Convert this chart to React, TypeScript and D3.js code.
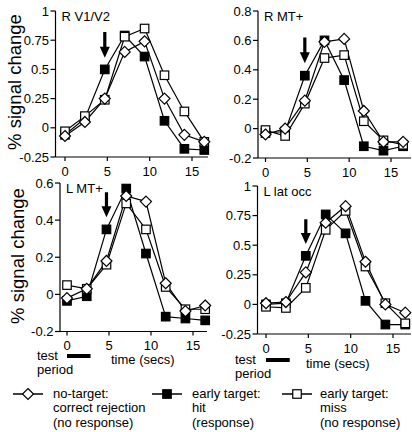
import React from "react";
import * as d3 from "d3";

// ---------- data ----------
const times = [0, 2.35, 4.7, 7.05, 9.4, 11.75, 14.1, 16.45];
const xTicks = [0, 5, 10, 15];

const rv1NoTarget = [-0.07, 0.05, 0.25, 0.65, 0.74, 0.25, -0.06, -0.12];
const rv1Hit = [-0.06, 0.08, 0.5, 0.79, 0.61, 0.06, -0.18, -0.19];
const rv1Miss = [-0.03, 0.1, 0.24, 0.78, 0.85, 0.45, 0.14, -0.12];

const rmtNoTarget = [-0.04, 0.0, 0.19, 0.59, 0.61, 0.12, -0.09, -0.09];
const rmtHit = [-0.03, -0.02, 0.36, 0.6, 0.33, -0.12, -0.15, -0.12];
const rmtMiss = [-0.01, -0.05, 0.17, 0.48, 0.5, 0.05, -0.08, -0.11];

const lmtNoTarget = [-0.02, 0.03, 0.18, 0.53, 0.5, 0.06, -0.09, -0.06];
const lmtHit = [-0.035, -0.01, 0.35, 0.57, 0.22, -0.12, -0.13, -0.14];
const lmtMiss = [0.05, 0.03, 0.16, 0.49, 0.35, 0.04, -0.08, -0.08];

const llatNoTarget = [0.01, 0.02, 0.27, 0.69, 0.83, 0.36, 0.0, -0.07];
const llatHit = [0.0, 0.01, 0.41, 0.76, 0.6, 0.03, -0.17, -0.17];
const llatMiss = [-0.02, -0.03, 0.14, 0.63, 0.79, 0.32, 0.01, -0.16];

const ticksQuarter = [-0.25, 0, 0.25, 0.5, 0.75, 1];
const ticksQuarterLabels = ["-0.25", "0", "0.25", "0.5", "0.75", "1"];
const ticksFifthTop = [-0.2, 0, 0.2, 0.4, 0.6, 0.8];
const ticksFifthTopLabels = ["-0.2", "0", "0.2", "0.4", "0.6", "0.8"];
const ticksFifthBottom = [-0.2, 0, 0.2, 0.4, 0.6];
const ticksFifthBottomLabels = ["-0.2", "0", "0.2", "0.4", "0.6"];

const arrowTime = 4.7;
const testPeriod = [0, 2.8];

const legendLabels = [
  ["no-target:", "correct rejection", "(no response)"],
  ["early target:", "hit", "(response)"],
  ["early target:", "miss", "(no response)"],
];

// ---------- layout ----------
const FONT = "'Liberation Sans', Arial, Helvetica, sans-serif";

type Panel = {
  title: string;
  noTarget: number[];
  hit: number[];
  miss: number[];
  ticks: number[];
  tickLabels: string[];
  arrow: [number, number];
  axisX: number;
  x0: number;
  x15: number;
  yTop: number;
  yBottom: number;
  xEnd: number;
};

const panels: Panel[] = [
  {
    title: "R V1/V2",
    noTarget: rv1NoTarget,
    hit: rv1Hit,
    miss: rv1Miss,
    ticks: ticksQuarter,
    tickLabels: ticksQuarterLabels,
    arrow: [0.82, 0.6],
    axisX: 55.5,
    x0: 65,
    x15: 192,
    yTop: 11,
    yBottom: 157,
    xEnd: 208,
  },
  {
    title: "R MT+",
    noTarget: rmtNoTarget,
    hit: rmtHit,
    miss: rmtMiss,
    ticks: ticksFifthTop,
    tickLabels: ticksFifthTopLabels,
    arrow: [0.62, 0.445],
    axisX: 258,
    x0: 265.5,
    x15: 391,
    yTop: 11,
    yBottom: 158,
    xEnd: 411,
  },
  {
    title: "L MT+",
    noTarget: lmtNoTarget,
    hit: lmtHit,
    miss: lmtMiss,
    ticks: ticksFifthBottom,
    tickLabels: ticksFifthBottomLabels,
    arrow: [0.55, 0.415],
    axisX: 60,
    x0: 67,
    x15: 193,
    yTop: 183,
    yBottom: 331.5,
    xEnd: 207,
  },
  {
    title: "L lat occ",
    noTarget: llatNoTarget,
    hit: llatHit,
    miss: llatMiss,
    ticks: ticksQuarter,
    tickLabels: ticksQuarterLabels,
    arrow: [0.72, 0.51],
    axisX: 257.5,
    x0: 266,
    x15: 393,
    yTop: 186,
    yBottom: 334,
    xEnd: 411,
  },
];

const SQ = 8.5;
const DI = 5.5;

function Square({ x, y, filled }: { x: number; y: number; filled: boolean }) {
  return (
    <rect
      x={x - SQ / 2}
      y={y - SQ / 2}
      width={SQ}
      height={SQ}
      fill={filled ? "#000" : "#fff"}
      stroke="#000"
      strokeWidth={1.2}
    />
  );
}

function Diamond({ x, y }: { x: number; y: number }) {
  const p = `M${x},${y - DI}L${x + DI},${y}L${x},${y + DI}L${x - DI},${y}Z`;
  return <path d={p} fill="#fff" stroke="#000" strokeWidth={1.2} />;
}

function PanelView({ p }: { p: Panel }) {
  const x = d3.scaleLinear().domain([0, 15]).range([p.x0, p.x15]);
  const yMin = p.ticks[0];
  const yMax = p.ticks[p.ticks.length - 1];
  const y = d3.scaleLinear().domain([yMin, yMax]).range([p.yBottom, p.yTop]);
  const line = d3
    .line<number>()
    .x((_, i) => x(times[i]))
    .y((d) => y(d));

  const ax = x(arrowTime);
  const aTop = y(p.arrow[0]);
  const aTip = y(p.arrow[1]);
  const headLen = 11;
  const arrowPath = `M${ax - 1.6},${aTop}L${ax + 1.6},${aTop}L${ax + 1.6},${aTip - headLen}L${ax + 5},${aTip - headLen}L${ax},${aTip}L${ax - 5},${aTip - headLen}L${ax - 1.6},${aTip - headLen}Z`;

  return (
    <g>
      {/* axes */}
      <line x1={p.axisX} x2={p.axisX} y1={p.yTop} y2={p.yBottom} stroke="#000" strokeWidth={1.2} />
      <line x1={p.axisX} x2={p.xEnd} y1={p.yBottom} y2={p.yBottom} stroke="#000" strokeWidth={1.2} />
      {p.ticks.map((t, i) => (
        <g key={"yt" + i}>
          <line x1={p.axisX - 5} x2={p.axisX} y1={y(t)} y2={y(t)} stroke="#000" strokeWidth={1.2} />
          <text
            x={p.axisX - 6.5}
            y={y(t)}
            textAnchor="end"
            dominantBaseline="central"
            fontSize={13}
            fontFamily={FONT}
          >
            {p.tickLabels[i]}
          </text>
        </g>
      ))}
      {xTicks.map((t) => (
        <g key={"xt" + t}>
          <line x1={x(t)} x2={x(t)} y1={p.yBottom} y2={p.yBottom + 4} stroke="#000" strokeWidth={1.2} />
          <text
            x={x(t)}
            y={p.yBottom + 14}
            textAnchor="middle"
            dominantBaseline="central"
            fontSize={13}
            fontFamily={FONT}
          >
            {t}
          </text>
        </g>
      ))}
      <text x={p.axisX + 6} y={p.yTop + 5} dominantBaseline="central" fontSize={13} fontFamily={FONT}>
        {p.title}
      </text>
      {/* arrow */}
      <path d={arrowPath} fill="#000" />
      {/* lines */}
      <path d={line(p.hit) || ""} fill="none" stroke="#000" strokeWidth={1.2} />
      <path d={line(p.miss) || ""} fill="none" stroke="#000" strokeWidth={1.2} />
      <path d={line(p.noTarget) || ""} fill="none" stroke="#000" strokeWidth={1.2} />
      {/* markers */}
      {p.hit.map((v, i) => (
        <Square key={"h" + i} x={x(times[i])} y={y(v)} filled={true} />
      ))}
      {p.miss.map((v, i) => (
        <Square key={"m" + i} x={x(times[i])} y={y(v)} filled={false} />
      ))}
      {p.noTarget.map((v, i) => (
        <Diamond key={"n" + i} x={x(times[i])} y={y(v)} />
      ))}
    </g>
  );
}

function TestPeriod({ p, labelX, barY, timeX }: { p: Panel; labelX: number; barY: number; timeX: number }) {
  const x = d3.scaleLinear().domain([0, 15]).range([p.x0, p.x15]);
  return (
    <g fontFamily={FONT} fontSize={13}>
      <rect x={x(testPeriod[0])} y={barY - 2} width={x(testPeriod[1]) - x(testPeriod[0])} height={4} fill="#000" />
      <text x={labelX} y={barY - 1} dominantBaseline="central">test</text>
      <text x={labelX} y={barY + 13} dominantBaseline="central">period</text>
      <text x={timeX} y={barY + 3} dominantBaseline="central">time (secs)</text>
    </g>
  );
}

export default function App() {
  const legendY = 394;
  return (
    <svg
      width={412}
      height={432}
      style={{ position: "absolute", left: 0, top: 0, background: "#fff" }}
      fontFamily={FONT}
    >
      <rect width={412} height={432} fill="#fff" />
      <text
        transform="translate(14,82) rotate(-90)"
        textAnchor="middle"
        dominantBaseline="central"
        fontSize={18.5}
        fontFamily={FONT}
      >
        % signal change
      </text>
      <text
        transform="translate(17,256) rotate(-90)"
        textAnchor="middle"
        dominantBaseline="central"
        fontSize={18.5}
        fontFamily={FONT}
      >
        % signal change
      </text>
      {panels.map((p) => (
        <PanelView key={p.title} p={p} />
      ))}
      <TestPeriod p={panels[2]} labelX={37} barY={356} timeX={111} />
      <TestPeriod p={panels[3]} labelX={235} barY={360} timeX={306} />
      {/* legend */}
      <g>
        <line x1={13} x2={43} y1={legendY} y2={legendY} stroke="#000" strokeWidth={1.5} />
        <Diamond x={28} y={legendY} />
        <line x1={152} x2={182} y1={legendY} y2={legendY} stroke="#000" strokeWidth={1.5} />
        <Square x={167} y={legendY} filled={true} />
        <line x1={282} x2={312} y1={legendY} y2={legendY} stroke="#000" strokeWidth={1.5} />
        <Square x={297} y={legendY} filled={false} />
        {legendLabels.map((lines, k) => (
          <g key={"lg" + k}>
            {lines.map((s, j) => (
              <text
                key={j}
                x={[53, 192, 320][k]}
                y={legendY - 1 + j * 14.5}
                dominantBaseline="central"
                fontSize={13}
                fontFamily={FONT}
              >
                {s}
              </text>
            ))}
          </g>
        ))}
      </g>
    </svg>
  );
}
